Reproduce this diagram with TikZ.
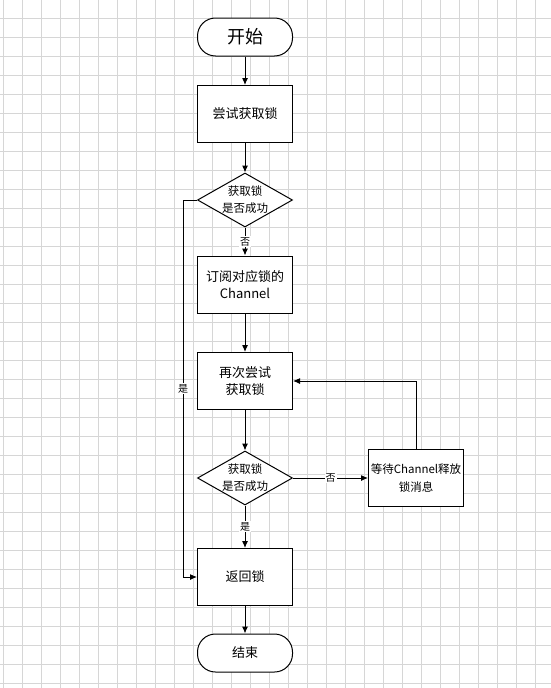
\documentclass[tikz,border=0pt]{standalone}
\usepackage{fontspec}
\setmainfont{Noto Sans CJK SC}
\usetikzlibrary{shapes.geometric, arrows.meta}

\tikzset{
	box/.style={draw, line width=1pt, minimum width=95pt, minimum height=57pt,
			inner sep=0pt, align=center, fill=white,
			font=\fontsize{13}{17.5}\selectfont},
	decision/.style={draw, diamond, line width=1pt, aspect=1.76, minimum width=95pt,
			minimum height=54pt, inner sep=-1pt, align=center, fill=white,
			font=\fontsize{11.5}{17}\selectfont},
	terminal/.style={draw, line width=1pt, rounded corners=18pt, minimum width=95pt,
			minimum height=38pt, inner sep=0pt, fill=white},
	flow/.style={->, line width=1pt},
	lbl/.style={fill=white, inner sep=1pt, font=\fontsize{10}{10}\selectfont}
}

\begin{document}
\begin{tikzpicture}[x=1pt, y=-1pt, >={Latex[length=7pt,width=6pt]}]
		\useasboundingbox (0,0) rectangle (551,688);
		% grid paper
		\foreach \gx in {3.3,22.3,...,551}
			\draw[black!16, line width=1pt] (\gx,0) -- (\gx,688);
		\foreach \gy in {18.3,37.3,...,688}
			\draw[black!16, line width=1pt] (0,\gy) -- (551,\gy);

		\node[terminal, font=\fontsize{18}{18}\selectfont] (start) at (245,37) {开始};
		\node[box] (try) at (245,114) {尝试获取锁};
		\node[decision] (chk1) at (245,200) {获取锁\\是否成功};
		\node[box] (sub) at (245,284.5) {订阅对应锁的\\Channel};
		\node[box] (retry) at (245,381) {再次尝试\\获取锁};
		\node[decision] (chk2) at (245,478) {获取锁\\是否成功};
		\node[box, font=\fontsize{11.5}{17.5}\selectfont] (wait) at (416,478) {等待Channel释放\\锁消息};
		\node[box] (ret) at (245,577) {返回锁};
		\node[terminal, font=\fontsize{13}{13}\selectfont] (stop) at (245,653) {结束};
		\coordinate (side) at (183,200);

		\draw[flow] (start) -- (try);
		\draw[flow] (try) -- (chk1);
		\draw[flow] (chk1) -- node[lbl] {否} (sub);
		\draw[flow] (sub) -- (retry);
		\draw[flow] (retry) -- (chk2);
		\draw[flow] (chk2) -- node[lbl] {否} (wait);
		\draw[flow] (wait.north) |- (retry.east);
		\draw[flow] (chk2) -- node[lbl] {是} (ret);
		\draw[flow] (chk1.west) -- (side) |- node[lbl, pos=0.25] {是} (ret.west);
		\draw[flow] (ret) -- (stop);
	\end{tikzpicture}
\end{document}
